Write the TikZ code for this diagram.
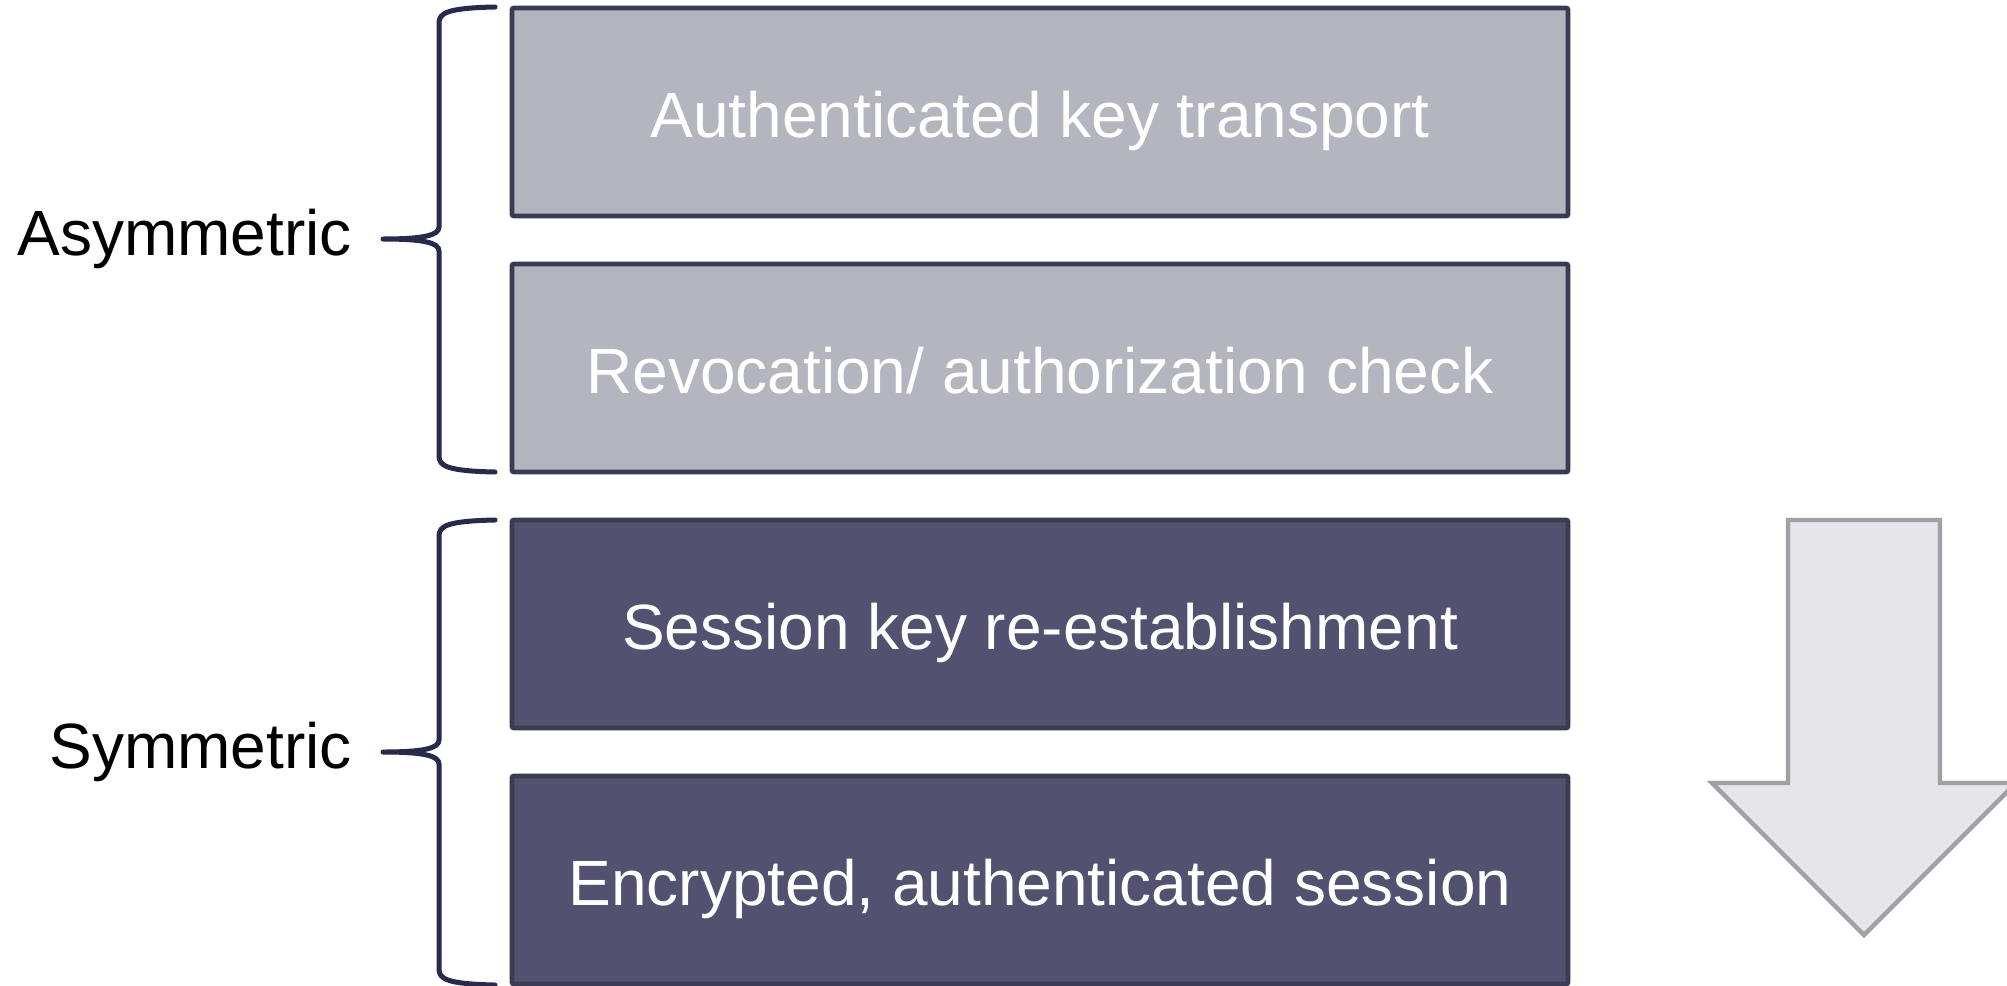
\documentclass[tikz,border=0pt]{standalone}
\usepackage{fontspec}
\setmainfont{Liberation Sans}
\definecolor{boxlight}{HTML}{B5B5BF}
\definecolor{boxdark}{HTML}{525270}
\definecolor{boxline}{HTML}{3A3A50}
\definecolor{bracecol}{HTML}{272A4B}
\definecolor{arrowfill}{HTML}{E6E5EA}
\definecolor{arrowline}{HTML}{A0A0A5}
\begin{document}
\begin{tikzpicture}[x=0.5pt,y=-0.5pt,
  layer/.style={draw=boxline, line width=2.4pt, rounded corners=1pt,
    minimum width=528pt, minimum height=104pt, inner sep=0pt,
    text height=25pt, text depth=0pt,
    text=white, font=\fontsize{32pt}{38pt}\selectfont},
  lightlayer/.style={layer, fill=boxlight},
  darklayer/.style={layer, fill=boxdark},
  bracket/.style={draw=bracecol, line width=2.5pt, line cap=round, line join=round},
  grouplabel/.style={anchor=base east, inner sep=0pt, text=black,
    font=\fontsize{32pt}{38pt}\selectfont}]
\useasboundingbox (0,0) rectangle (2007,985);
\clip (0,0) rectangle (2007,985);

% protocol layers
\node[lightlayer] (akt) at (1040,112) {Authenticated key transport};
\node[lightlayer] (rev) at (1040,368) {Revocation/ authorization check};
\node[darklayer]  (skr) at (1040,624) {Session key re-establishment};
\node[darklayer]  (enc) at (1040,880) {Encrypted, authenticated session};

% braces grouping the layers
\foreach \top/\tip in {7/239, 520/752} {
  \draw[bracket]
    (495,\top) .. controls (447,\top+1) and (439,\top+6) .. (439,\top+16)
    -- (439,\tip-12) .. controls (439,\tip-4) and (425,\tip) .. (383,\tip)
    .. controls (425,\tip) and (439,\tip+4) .. (439,\tip+12)
    -- (439,\tip+217) .. controls (439,\tip+227) and (447,\tip+232) .. (495,\tip+233);
}
\node[grouplabel] (asym) at (352,255) {Asymmetric};
\node[grouplabel] (sym)  at (352,768) {Symmetric};

% downward arrow
\draw[fill=arrowfill, draw=arrowline, line width=2.2pt, line join=miter]
  (1788,520) -- (1940,520) -- (1940,783) -- (2016,783) -- (1864,935)
  -- (1712,783) -- (1788,783) -- cycle;
\end{tikzpicture}
\end{document}
